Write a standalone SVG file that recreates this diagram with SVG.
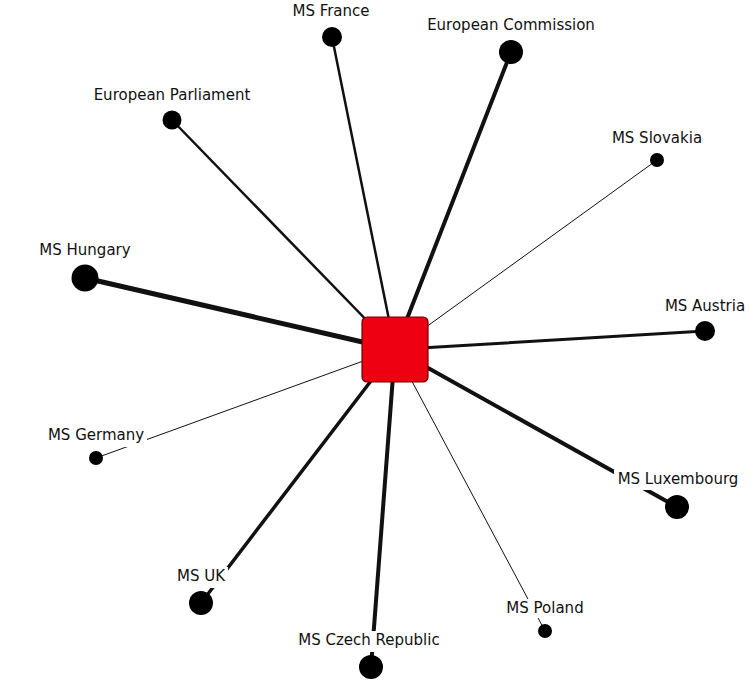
<svg xmlns="http://www.w3.org/2000/svg" width="750" height="687" viewBox="0 0 750 687">
<style>
.e{stroke:#111;fill:none;stroke-linecap:round}
.n{fill:#000}
.lb{fill:#fff}
.t{font-family:"DejaVu Sans","Liberation Sans",sans-serif;font-size:15px;fill:#111;text-anchor:middle}
</style>
<rect width="750" height="687" fill="#fff"/>
<g id="connectors">
<line class="e" x1="332" y1="37" x2="395" y2="349.5" stroke-width="2.5"/>
<line class="e" x1="511" y1="52" x2="395" y2="349.5" stroke-width="4"/>
<line class="e" x1="172" y1="120" x2="395" y2="349.5" stroke-width="2.5"/>
<line class="e" x1="657" y1="160" x2="395" y2="349.5" stroke-width="1"/>
<line class="e" x1="85" y1="278" x2="395" y2="349.5" stroke-width="5"/>
<line class="e" x1="705" y1="331" x2="395" y2="349.5" stroke-width="3"/>
<line class="e" x1="96" y1="458" x2="395" y2="349.5" stroke-width="1"/>
<line class="e" x1="677" y1="507" x2="395" y2="349.5" stroke-width="4"/>
<line class="e" x1="201" y1="603" x2="395" y2="349.5" stroke-width="3.5"/>
<line class="e" x1="545" y1="631" x2="395" y2="349.5" stroke-width="1"/>
<line class="e" x1="371" y1="667" x2="395" y2="349.5" stroke-width="4"/>
</g>
<g id="center">
<rect x="362" y="317" width="66" height="65" rx="5" fill="#ee0011" stroke="#6a0008" stroke-width="1.2"/>
</g>
<g id="ms-france"><circle class="n" cx="332" cy="37" r="10"/><text class="t" x="331" y="16">MS France</text></g>
<g id="european-commission"><circle class="n" cx="511" cy="52" r="12"/><text class="t" x="511" y="30">European Commission</text></g>
<g id="european-parliament"><circle class="n" cx="172" cy="120" r="9.5"/><text class="t" x="172" y="100">European Parliament</text></g>
<g id="ms-slovakia"><circle class="n" cx="657" cy="160" r="7"/><text class="t" x="657" y="143">MS Slovakia</text></g>
<g id="ms-hungary"><circle class="n" cx="85" cy="278" r="13.5"/><text class="t" x="85" y="255">MS Hungary</text></g>
<g id="ms-austria"><circle class="n" cx="705" cy="331" r="10"/><text class="t" x="705" y="311">MS Austria</text></g>
<g id="ms-germany"><circle class="n" cx="96" cy="458" r="7"/><rect class="lb" x="45" y="426" width="102" height="21"/><text class="t" x="96" y="440">MS Germany</text></g>
<g id="ms-luxembourg"><circle class="n" cx="677" cy="507" r="12"/><rect class="lb" x="614" y="470" width="128" height="20"/><text class="t" x="678" y="484">MS Luxembourg</text></g>
<g id="ms-uk"><circle class="n" cx="201" cy="603" r="12"/><rect class="lb" x="175" y="567" width="53" height="21"/><text class="t" x="201" y="581">MS UK</text></g>
<g id="ms-poland"><circle class="n" cx="545" cy="631" r="7"/><rect class="lb" x="503" y="599" width="83" height="19"/><text class="t" x="545" y="613">MS Poland</text></g>
<g id="ms-czech-republic"><circle class="n" cx="371" cy="667" r="12"/><rect class="lb" x="294" y="631" width="150" height="21"/><text class="t" x="369" y="645">MS Czech Republic</text></g>
</svg>
